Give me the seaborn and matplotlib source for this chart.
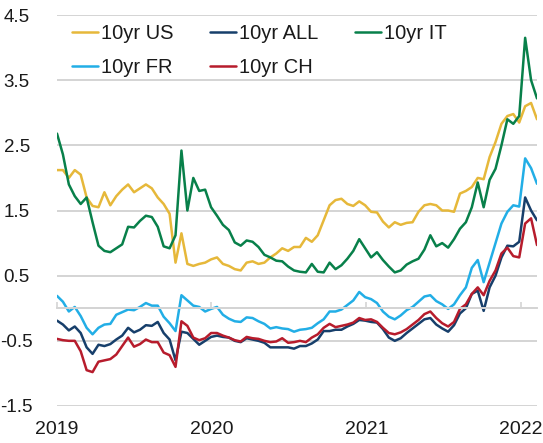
import pandas as pd
import seaborn as sns
import matplotlib.pyplot as plt

sns.set_theme(style="white")
plt.rcParams["font.family"] = ["Liberation Sans", "DejaVu Sans"]

series_names = ["10yr US", "10yr ALL", "10yr IT", "10yr FR", "10yr CH"]
colors = ["#E6B83A", "#173F6B", "#08804A", "#22AEE6", "#B71C2C"]

# one reading every two weeks, 2019-01-01 onwards
dates = pd.date_range("2019-01-01", periods=82, freq="14D")

us = [2.12, 2.12, 2.00, 2.12, 2.05, 1.70, 1.57, 1.55, 1.78, 1.58,
      1.72, 1.82, 1.90, 1.78, 1.84, 1.90, 1.84, 1.70, 1.60, 1.45,
      0.70, 1.15, 0.68, 0.65, 0.68, 0.70, 0.75, 0.78, 0.68, 0.65,
      0.60, 0.58, 0.70, 0.72, 0.68, 0.70, 0.78, 0.84, 0.92, 0.88,
      0.94, 0.94, 1.08, 1.02, 1.12, 1.35, 1.58, 1.66, 1.68, 1.60,
      1.57, 1.64, 1.58, 1.48, 1.47, 1.33, 1.24, 1.32, 1.28, 1.31,
      1.32, 1.48, 1.58, 1.60, 1.58, 1.50, 1.50, 1.48, 1.76, 1.80,
      1.86, 2.00, 1.98, 2.32, 2.55, 2.83, 2.95, 2.98, 2.85, 3.10,
      3.15, 2.90]

all_ = [-0.19, -0.25, -0.34, -0.28, -0.38, -0.60, -0.70, -0.56, -0.58, -0.55,
        -0.48, -0.42, -0.30, -0.37, -0.33, -0.26, -0.27, -0.21, -0.38, -0.48,
        -0.80, -0.36, -0.38, -0.47, -0.56, -0.50, -0.44, -0.42, -0.44, -0.45,
        -0.50, -0.52, -0.46, -0.48, -0.50, -0.53, -0.60, -0.60, -0.60, -0.60,
        -0.62, -0.58, -0.58, -0.54, -0.48, -0.35, -0.35, -0.33, -0.33, -0.28,
        -0.24, -0.18, -0.19, -0.21, -0.22, -0.32, -0.45, -0.50, -0.46, -0.38,
        -0.31, -0.24, -0.17, -0.15, -0.25, -0.31, -0.36, -0.26, -0.08, 0.00,
        0.22, 0.27, -0.04, 0.32, 0.50, 0.78, 0.96, 0.95, 1.02, 1.70,
        1.50, 1.35]

it = [2.68, 2.36, 1.90, 1.72, 1.60, 1.70, 1.32, 0.96, 0.88, 0.86,
      0.92, 0.98, 1.25, 1.24, 1.34, 1.42, 1.40, 1.25, 0.95, 0.92,
      1.12, 2.42, 1.50, 2.00, 1.80, 1.82, 1.55, 1.42, 1.28, 1.20,
      1.01, 0.96, 1.04, 1.02, 0.94, 0.82, 0.78, 0.73, 0.72, 0.64,
      0.58, 0.56, 0.55, 0.68, 0.56, 0.55, 0.70, 0.60, 0.66, 0.76,
      0.88, 1.06, 0.92, 0.78, 0.86, 0.74, 0.64, 0.55, 0.58, 0.67,
      0.72, 0.76, 0.90, 1.12, 0.95, 1.00, 0.93, 1.06, 1.22, 1.32,
      1.55, 1.93, 1.55, 1.97, 2.14, 2.50, 2.90, 2.83, 2.95, 4.15,
      3.50, 3.22]

fr = [0.19, 0.10, -0.05, 0.02, -0.12, -0.30, -0.40, -0.30, -0.25, -0.24,
      -0.10, -0.06, -0.02, -0.03, 0.02, 0.08, 0.04, 0.04, -0.13, -0.23,
      -0.35, 0.20, 0.12, 0.04, 0.02, -0.05, -0.01, 0.02, -0.10, -0.16,
      -0.20, -0.21, -0.14, -0.15, -0.20, -0.24, -0.31, -0.29, -0.31, -0.32,
      -0.36, -0.33, -0.32, -0.30, -0.23, -0.17, -0.05, -0.05, -0.02, 0.05,
      0.12, 0.25, 0.17, 0.14, 0.08, -0.05, -0.13, -0.17, -0.11, -0.03,
      0.02, 0.10, 0.18, 0.20, 0.11, 0.06, -0.01, 0.06, 0.20, 0.32,
      0.62, 0.74, 0.40, 0.70, 1.00, 1.30, 1.48, 1.58, 1.56, 2.30,
      2.15, 1.91]

ch = [-0.47, -0.49, -0.50, -0.50, -0.66, -0.95, -0.98, -0.82, -0.80, -0.78,
      -0.71, -0.58, -0.45, -0.59, -0.55, -0.48, -0.52, -0.52, -0.68, -0.72,
      -0.90, -0.20, -0.27, -0.45, -0.49, -0.46, -0.38, -0.38, -0.42, -0.45,
      -0.49, -0.51, -0.44, -0.46, -0.47, -0.50, -0.52, -0.51, -0.46, -0.53,
      -0.52, -0.50, -0.52, -0.45, -0.40, -0.30, -0.24, -0.29, -0.27, -0.25,
      -0.22, -0.15, -0.18, -0.17, -0.21, -0.30, -0.38, -0.40, -0.37, -0.32,
      -0.25, -0.18, -0.09, -0.05, -0.15, -0.23, -0.28, -0.21, -0.01, 0.06,
      0.22, 0.32, 0.20, 0.42, 0.58, 0.84, 0.93, 0.80, 0.78, 1.30,
      1.38, 0.97]

yticks = [-1.5, -0.5, 0.5, 1.5, 2.5, 3.5, 4.5]
year_ticks = ["2019", "2020", "2021", "2022"]

df = pd.DataFrame({"date": dates, "10yr US": us, "10yr ALL": all_,
                   "10yr IT": it, "10yr FR": fr, "10yr CH": ch})
df = df.melt(id_vars="date", var_name="series", value_name="yield")

fig = plt.figure(figsize=(5.43, 4.43), dpi=100)
ax = fig.add_axes([57 / 543, 37 / 443, 480 / 543, 391 / 443])

grid_c = "#d4d4d4"
# x axis line crosses at zero
ax.axhline(0, color=grid_c, linewidth=1.4, zorder=1)

sns.lineplot(data=df, x="date", y="yield", hue="series", hue_order=series_names,
             palette=colors, linewidth=1.8, ax=ax)

ax.set_ylim(-1.5, 4.5)
ax.set_yticks(yticks)
ax.set_yticklabels([f"{t:.1f}" for t in yticks], ha="center")
ax.set_xlim(dates[0], dates[-1])
ax.set_xticks(pd.to_datetime([f"{y}-01-01" for y in year_ticks]))
ax.set_xticklabels(year_ticks)
ax.set_xlabel("")
ax.set_ylabel("")

ax.grid(axis="y", color=grid_c, linewidth=1.4)
ax.grid(axis="x", visible=False)
ax.set_axisbelow(True)
for s in ["top", "right", "left"]:
    ax.spines[s].set_visible(False)
ax.spines["bottom"].set_position(("data", 0))
ax.spines["bottom"].set_color(grid_c)
ax.spines["bottom"].set_linewidth(1.4)

ax.tick_params(axis="x", bottom=True, direction="in", length=4, width=1.2,
               color=grid_c, pad=81, labelsize=14, labelcolor="#1a1a1a")
ax.tick_params(axis="y", left=False, pad=23, labelsize=13.5, labelcolor="#1a1a1a")

# legend reads row by row: US, ALL, IT / FR, CH
handles, labels = ax.get_legend_handles_labels()
order = [0, 3, 1, 4, 2]
ax.legend([handles[i] for i in order], [labels[i] for i in order],
          loc="upper left", bbox_to_anchor=(72 / 543, 1 - 24 / 443),
          bbox_transform=fig.transFigure, ncol=3, frameon=False,
          handlelength=1.3, handletextpad=0.15, columnspacing=1.8,
          labelspacing=0.75, borderpad=0, borderaxespad=0, fontsize=14.5,
          labelcolor="#1a1a1a")

fig.savefig("out.png", dpi=100)
